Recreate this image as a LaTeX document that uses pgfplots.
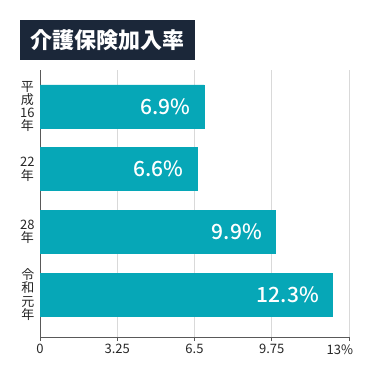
\documentclass[border=0pt]{standalone}
\usepackage{pgfplots}
\pgfplotsset{compat=1.18}
\usepackage{fontspec}
\setmainfont{Noto Sans CJK JP}
\newfontfamily\valfont{Noto Sans CJK JP Medium}
\definecolor{barc}{HTML}{06A7B7}
\definecolor{titlebg}{HTML}{1B2739}
\newcommand{\yl}{\fontsize{13}{13.3}\selectfont}
\begin{document}
\begin{tikzpicture}[x=1pt,y=1pt]
\useasboundingbox (0,0) rectangle (375,375);
\fill[titlebg] (20,315) rectangle (195,355);
\node[text=white, font=\fontsize{22}{22}\selectfont\bfseries] at (107.5,335) {介護保険加入率};
\begin{axis}[
 at={(40pt,38pt)}, anchor=south west, scale only axis, width=309pt, height=267pt,
 xmin=0, xmax=13, ymin=-0.678, ymax=3.582,
 xbar, bar width=43pt,
 axis x line*=bottom, axis y line*=left,
 axis line style={draw=black!65, line width=0.8pt},
 xtick={0,3.25,6.5,9.75,13}, xticklabels={0,3.25,6.5,9.75,{\kern8pt\makebox[0pt][r]{13\%}}},
 xtick style={draw=black!65, line width=0.8pt},
 tick align=outside, major tick length=4pt,
 xmajorgrids, grid style={draw=black!15, line width=0.8pt},
 ytick={0,1,2,3}, yticklabels={{\yl 令\\\yl 和\\\yl 元\\\yl 年},{\yl 28\\\yl 年},{\yl 22\\\yl 年},{\yl 平\\\yl 成\\\yl 16\\\yl 年}},
 ytick style={draw=none},
 y tick label style={align=center, font=\yl, text=black!85, xshift=2pt},
 x tick label style={font=\fontsize{13}{13}\selectfont, text=black!85},
 /pgf/number format/assume math mode=true,
 clip=false,
]
\addplot[fill=barc, draw=barc, point meta=x,
 nodes near coords={\pgfmathprintnumber[fixed,fixed zerofill,precision=1]{\pgfplotspointmeta}\%},
 every node near coord/.append style={anchor=east, xshift=-10pt, text=white, font=\valfont\fontsize{21}{21}\selectfont}]
 coordinates {(12.3,0) (9.9,1) (6.6,2) (6.9,3)};
\end{axis}
\end{tikzpicture}
\end{document}
